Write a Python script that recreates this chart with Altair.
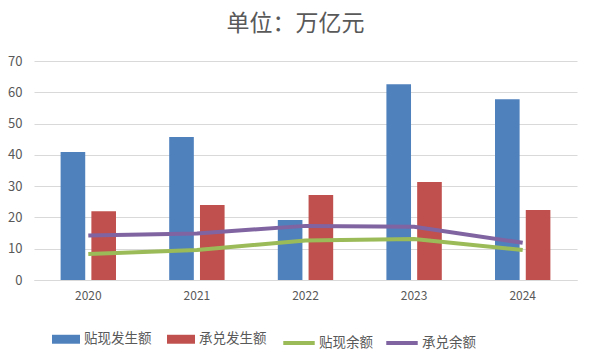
import altair as alt
import pandas as pd

years = ["2020", "2021", "2022", "2023", "2024"]
discount_issued = [40.9, 45.7, 19.2, 62.6, 57.8]   # 贴现发生额
accept_issued = [22.0, 24.0, 27.2, 31.3, 22.4]     # 承兑发生额
discount_balance = [8.3, 9.6, 12.6, 13.1, 9.6]     # 贴现余额
accept_balance = [14.2, 14.9, 17.3, 17.0, 11.9]    # 承兑余额

bar_names = ["贴现发生额", "承兑发生额"]
line_names = ["贴现余额", "承兑余额"]
y_ticks = [0, 10, 20, 30, 40, 50, 60, 70]

bars = pd.DataFrame(
    [{"年份": y, "类型": bar_names[0], "值": v} for y, v in zip(years, discount_issued)]
    + [{"年份": y, "类型": bar_names[1], "值": v} for y, v in zip(years, accept_issued)]
)
line_a = pd.DataFrame({"年份": years, "余额A": line_names[0], "值": discount_balance})
line_b = pd.DataFrame({"年份": years, "余额B": line_names[1], "值": accept_balance})

FONT = "Noto Sans CJK SC"
GRAY = "#595959"

x_enc = alt.X(
    "年份:N",
    sort=years,
    title=None,
    scale=alt.Scale(paddingInner=0.49, paddingOuter=0.245),
    axis=alt.Axis(labelAngle=0, ticks=False, tickSize=0, domain=True, domainColor="#d9d9d9",
                  grid=False, labelPadding=10, labelFontSize=12, labelColor=GRAY, labelFont=FONT),
)
y_enc = alt.Y(
    "值:Q",
    title=None,
    scale=alt.Scale(domain=[0, 70], nice=False),
    axis=alt.Axis(values=y_ticks, ticks=False, tickSize=0, domain=False, grid=True,
                  gridColor="#d9d9d9", labelPadding=12, labelFontSize=13, labelColor=GRAY,
                  labelFont=FONT, labelOverlap=False),
)

bar_layer = alt.Chart(bars).mark_bar().encode(
    x=x_enc,
    y=y_enc,
    xOffset=alt.XOffset("类型:N", sort=bar_names, scale=alt.Scale(paddingInner=0.2)),
    fill=alt.Fill(
        "类型:N",
        sort=bar_names,
        scale=alt.Scale(domain=bar_names, range=["#4F81BD", "#C0504D"]),
        legend=alt.Legend(
            title=None, orient="none", legendX=18, legendY=264, direction="horizontal",
            symbolType="M-1,-0.32H1V0.32H-1Z", symbolSize=784, symbolStrokeWidth=0,
            labelFontSize=13.5, labelColor=GRAY, labelFont=FONT, labelOffset=4,
            columnPadding=15,
        ),
    ),
)

line_layer_a = alt.Chart(line_a).mark_line(strokeWidth=4).encode(
    x=x_enc,
    y=y_enc,
    stroke=alt.Stroke(
        "余额A:N",
        scale=alt.Scale(domain=[line_names[0]], range=["#9BBB59"]),
        legend=alt.Legend(
            title=None, orient="none", legendX=247, legendY=264, direction="horizontal",
            symbolType="stroke", symbolSize=990, symbolStrokeWidth=4,
            labelFontSize=13.5, labelColor=GRAY, labelFont=FONT, labelOffset=2,
        ),
    ),
)

line_layer_b = alt.Chart(line_b).mark_line(strokeWidth=4).encode(
    x=x_enc,
    y=y_enc,
    color=alt.Color(
        "余额B:N",
        scale=alt.Scale(domain=[line_names[1]], range=["#8064A2"]),
        legend=alt.Legend(
            title=None, orient="none", legendX=350, legendY=264, direction="horizontal",
            symbolType="stroke", symbolSize=990, symbolStrokeWidth=4,
            labelFontSize=13.5, labelColor=GRAY, labelFont=FONT, labelOffset=2,
        ),
    ),
)

chart = (
    alt.layer(bar_layer, line_layer_a, line_layer_b)
    .properties(
        width=543,
        height=219,
        background="white",
        padding={"left": 34, "top": 61, "right": 14, "bottom": 74},
        autosize=alt.AutoSizeParams(type="none"),
        title=alt.TitleParams(
            "单位：万亿元", anchor="middle", fontSize=23, fontWeight="normal",
            color=GRAY, font=FONT, offset=19, dx=-10,
        ),
    )
    .configure_view(strokeWidth=0)
)

chart.save("out.html", embed_options={"renderer": "svg", "actions": False})
